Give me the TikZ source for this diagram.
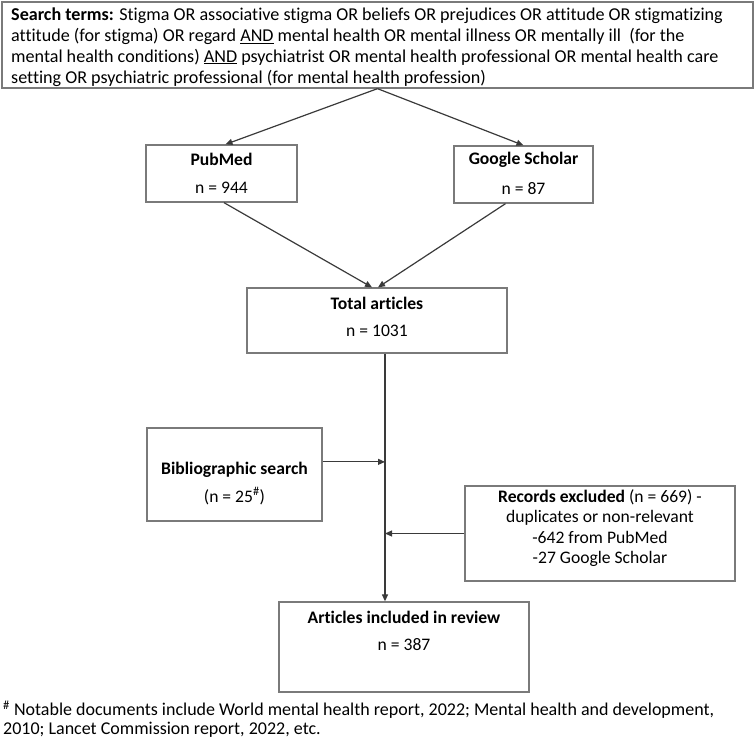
\documentclass[tikz,border=0pt]{standalone}
\usepackage{fontspec}
\setmainfont{Carlito}[Ligatures=NoCommon]
\usetikzlibrary{arrows.meta,calc}
\definecolor{boxgray}{HTML}{7A7A7A}
\definecolor{lineclr}{HTML}{3A3A3A}
\begin{document}
\begin{tikzpicture}[x=1pt,y=-1pt,
  box/.style={draw=boxgray, line width=1.3pt, rectangle, inner sep=0pt},
  txt/.style={inner sep=0pt, align=center, font=\fontsize{17.6}{21}\selectfont},
  ttl/.style={txt, font=\bfseries\fontsize{17.6}{21}\selectfont},
  conn/.style={draw=lineclr, line width=1.2pt, -{Triangle[length=7pt,width=6pt]}}]
\useasboundingbox (0,0) rectangle (755,740);
% boxes
\node[box, minimum width=751, minimum height=86] (top) at (377.5,45) {};
\node[box, minimum width=151, minimum height=57] (pub) at (221.5,173.5) {};
\node[box, minimum width=139, minimum height=57] (goo) at (523.5,174.5) {};
\node[box, minimum width=260, minimum height=65] (tot) at (377,320.5) {};
\node[box, minimum width=175, minimum height=93] (bib) at (234.5,474.5) {};
\node[box, minimum width=270, minimum height=95] (rec) at (600,533.5) {};
\node[box, minimum width=250, minimum height=90] (art) at (404,647) {};
% texts
\node[txt, anchor=west, align=left, font=\fontsize{18.1}{20.8}\selectfont] (topt) at (11,47)
 {\textbf{Search terms:} Stigma OR associative stigma OR beliefs OR prejudices OR attitude OR stigmatizing\\
 attitude (for stigma) OR regard \underline{AND} mental health OR mental illness OR mentally ill~ (for the\\
 mental health conditions) \underline{AND} psychiatrist OR mental health professional OR mental health care\\
 setting OR psychiatric professional (for mental health profession)};
\node[ttl] (pubt) at (221.5,159) {PubMed};
\node[txt] (pubn) at (221.5,188) {n = 944};
\node[ttl] (goot) at (523.5,160) {Google Scholar};
\node[txt] (goon) at (523.5,189) {n = 87};
\node[ttl] (tott) at (377,303) {Total articles};
\node[txt] (totn) at (377,331) {n = 1031};
\node[ttl] (bibt) at (234.5,470) {Bibliographic search};
\node[txt] (bibn) at (234.5,496) {(n = 25\textsuperscript{\#})};
\node[txt, font=\fontsize{17.6}{20.5}\selectfont] (rect) at (600,528)
 {\textbf{Records excluded} (n = 669) -\\duplicates or non-relevant\\-642 from PubMed\\-27 Google Scholar};
\node[ttl] (artt) at (404,617) {Articles included in review};
\node[txt] (artn) at (404,645) {n = 387};
\node[txt, anchor=west, align=left, font=\fontsize{18}{18.5}\selectfont] (foot) at (3,719)
 {\textsuperscript{\#} Notable documents include World mental health report, 2022; Mental health and development,\\
 2010; Lancet Commission report, 2022, etc.};
% connectors
\coordinate (sp) at (385,0);
\coordinate (bibout) at ($(bib.north east)!0.366!(bib.south east)$);
\draw[conn] (top.south) -- ($(pub.north)+(4,0)$);
\draw[conn] (top.south) -- (goo.north);
\draw[conn] ($(pub.south)+(2.5,0)$) -- ($(tot.north)+(-5,0)$);
\draw[conn] ($(goo.south)+(-18,0)$) -- ($(tot.north)+(1,0)$);
\draw[conn] (tot.south -| sp) -- (art.north -| sp);
\draw[conn] (bibout) -- (bibout -| sp);
\draw[conn] (rec.west) -- (rec.west -| sp);
\end{tikzpicture}
\end{document}
